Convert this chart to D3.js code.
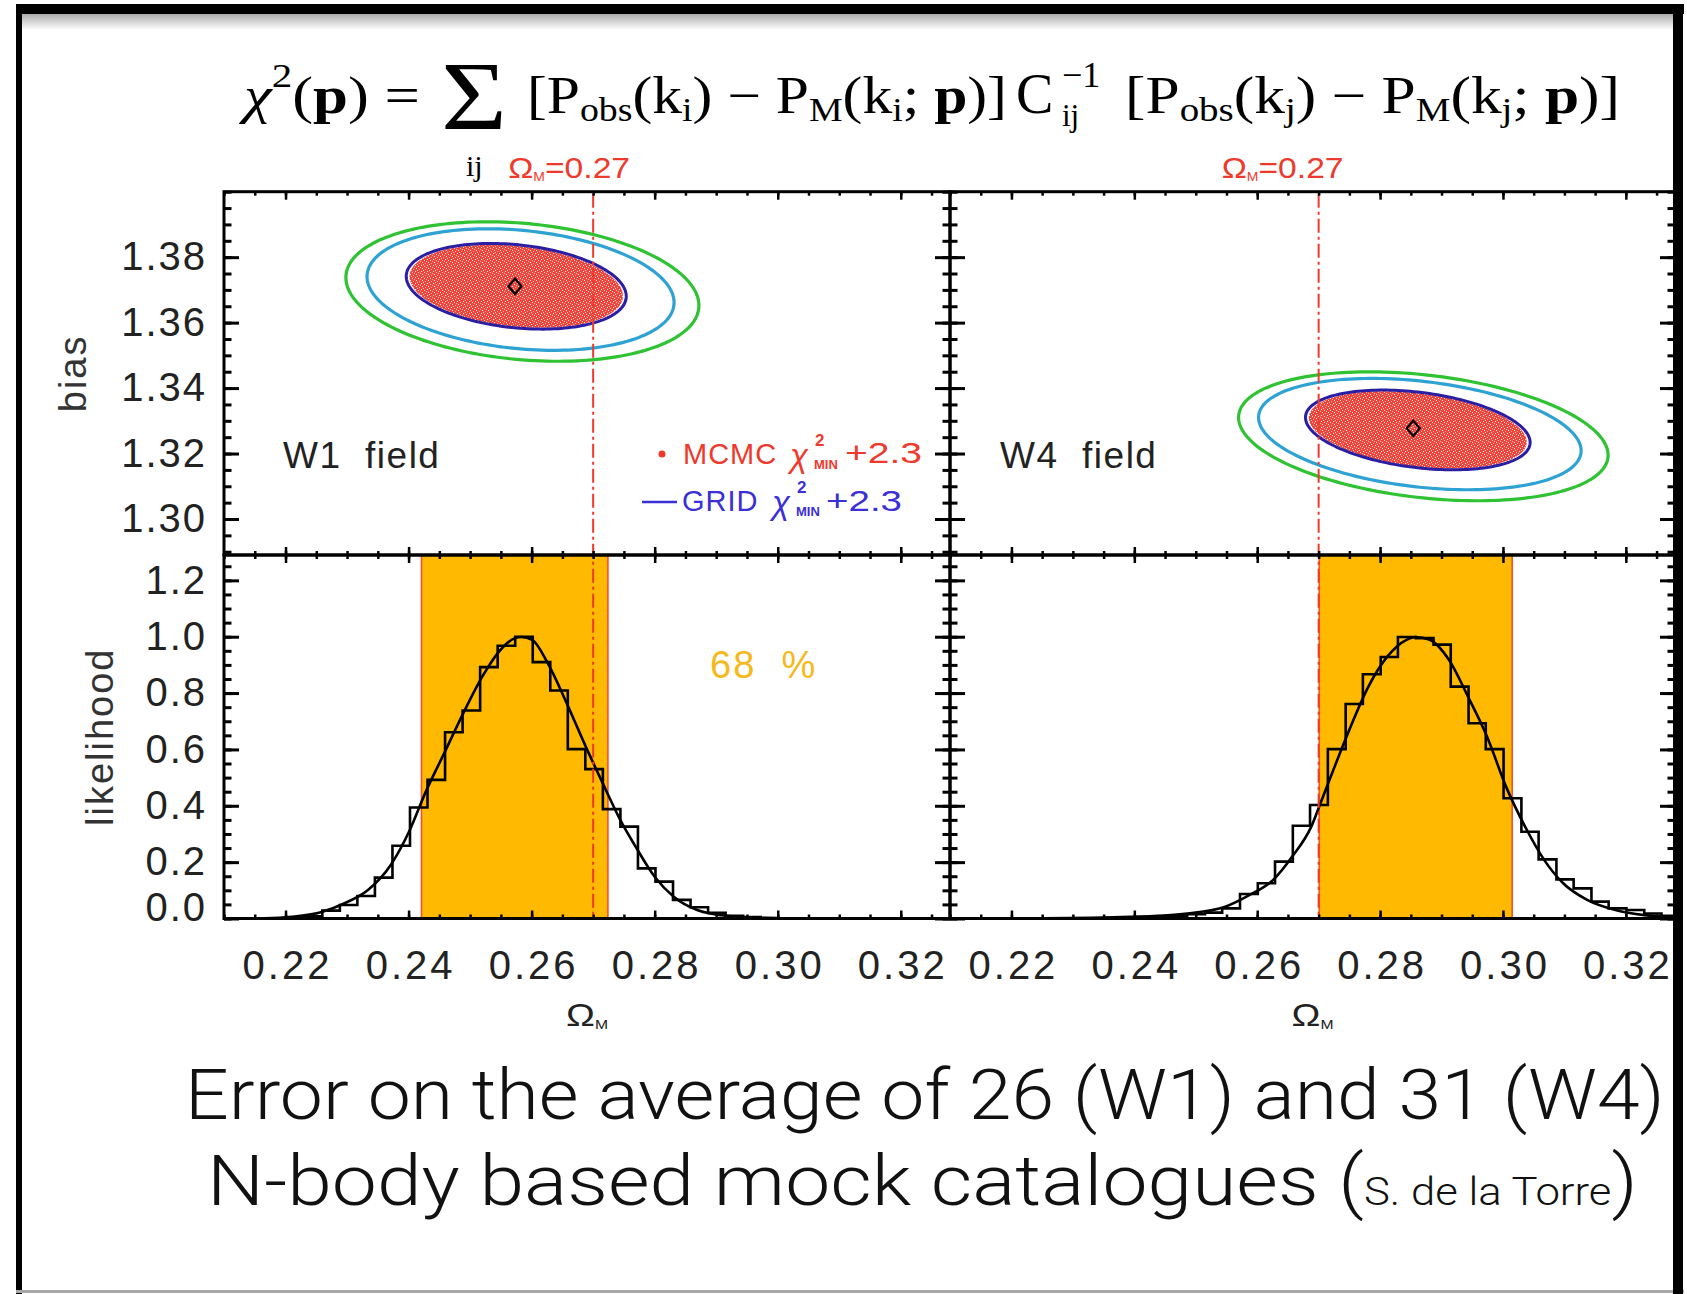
<!DOCTYPE html>
<html><head><meta charset="utf-8">
<script src="https://cdn.jsdelivr.net/npm/d3@7"></script>
<style>
html,body{margin:0;padding:0;background:#fff;}
svg{display:block;}
</style></head>
<body>
<svg id="chart" width="1687" height="1294"></svg>
<script>
// ================= DATA =================
const xTickValues = [0.22, 0.24, 0.26, 0.28, 0.30, 0.32];
const xTickLabels = ["0.22", "0.24", "0.26", "0.28", "0.30", "0.32"];
const biasTickValues = [1.30, 1.32, 1.34, 1.36, 1.38];
const biasTickLabels = ["1.30", "1.32", "1.34", "1.36", "1.38"];
const likeTickValues = [0.0, 0.2, 0.4, 0.6, 0.8, 1.0, 1.2];
const likeTickLabels = ["0.0", "0.2", "0.4", "0.6", "0.8", "1.0", "1.2"];
const omegaDomain = [0.21, 0.328];
const biasDomain = [1.289, 1.40];
const likeDomain = [0, 1.29];
const omegaFiducial = 0.27;
const fieldNames = ["W1  field", "W4  field"];

// contour ellipses: [centre Ωm, centre bias, half-width Ωm, half-height bias, bias shift at Ωm extremes]
const w1GridContour   = [0.2575, 1.3711, 0.01788, 0.01309, -0.00304];
const w1Contour2      = [0.2582, 1.3701, 0.02495, 0.01857, -0.00396];
const w1Contour3      = [0.2585, 1.3695, 0.02869, 0.02131, -0.00426];
const w4GridContour   = [0.28614, 1.32721, 0.01828, 0.01218, -0.00381];
const w4Contour2      = [0.28647, 1.32594, 0.02625, 0.01701, -0.00508];
const w4Contour3      = [0.28704, 1.32527, 0.03007, 0.01970, -0.00575];
const w1BestFit = [0.2573, 1.3711];
const w4BestFit = [0.2854, 1.3277];

// 68% intervals
const w1Band = [0.2421, 0.2724];
const w4Band = [0.2701, 0.3015];

// histogram: bin left edges and heights
const w1BinEdges = [0.21458,0.21743,0.22028,0.22313,0.22598,0.22883,0.23168,0.23453,0.23738,0.24023,0.24308,0.24593,0.24878,0.25163,0.25448,0.25733,0.26018,0.26303,0.26588,0.26873,0.27158,0.27443,0.27728,0.28013,0.28298,0.28583,0.28868,0.29153,0.29438,0.29723,0.30008];
const w1BinValues = [0.0,0.0,0.003,0.008,0.028,0.048,0.08,0.145,0.258,0.394,0.492,0.661,0.738,0.892,0.968,1.0,0.91,0.809,0.601,0.53,0.388,0.326,0.178,0.131,0.066,0.04,0.02,0.01,0.005,0.002,0.0];
const w4BinEdges = [0.2372,0.2401,0.2429,0.2458,0.2486,0.2515,0.2543,0.2572,0.2601,0.2629,0.2658,0.2686,0.2715,0.2744,0.2772,0.2801,0.2829,0.2858,0.2887,0.2915,0.2944,0.2972,0.3001,0.3030,0.3058,0.3087,0.3115,0.3144,0.3172,0.3201,0.3230,0.3258];
const w4BinValues = [0.003,0.005,0.008,0.010,0.015,0.021,0.036,0.087,0.125,0.202,0.329,0.403,0.601,0.761,0.867,0.928,0.999,0.995,0.972,0.823,0.693,0.601,0.427,0.308,0.21,0.139,0.107,0.06,0.036,0.03,0.018,0.01];

// smooth likelihood curves
const w1CurveX = [0.210,0.2166,0.2210,0.2256,0.2296,0.2334,0.2371,0.2402,0.2427,0.2458,0.2489,0.2520,0.2545,0.2573,0.2583,0.2601,0.2626,0.2657,0.2688,0.2713,0.2744,0.2769,0.2800,0.2831,0.2869,0.2920,0.3000,0.3100,0.3280];
const w1CurveY = [0.0,0.001,0.006,0.021,0.054,0.101,0.19,0.314,0.445,0.587,0.729,0.859,0.942,0.995,0.999,0.989,0.907,0.764,0.61,0.492,0.35,0.255,0.148,0.077,0.03,0.009,0.001,0.0,0.0];
const w4CurveX = [0.210,0.2250,0.2394,0.2486,0.2548,0.2587,0.2626,0.2657,0.2688,0.2703,0.2726,0.2750,0.2781,0.2812,0.2843,0.2858,0.2881,0.2912,0.2943,0.2974,0.3005,0.3036,0.3067,0.3098,0.3137,0.3183,0.3230,0.3276];
const w4CurveY = [0.0,0.001,0.006,0.018,0.042,0.083,0.137,0.22,0.326,0.409,0.539,0.67,0.823,0.93,0.989,0.999,0.989,0.918,0.788,0.646,0.468,0.326,0.208,0.125,0.066,0.03,0.012,0.006];

// ================= LAYOUT / STYLE =================
const W = 1687, H = 1294;
const L = {x0: 224, xm: 950, x1: 1675, y0: 191.7, ym: 555, y1: 918.5};
const C = {
  green: "#2fc232", cyan: "#2ea3d3", blue: "#2a1fa3", red: "#ee3a2c",
  band: "#ffb900", bandEdge: "#f2512a", legendBlue: "#3b2fd6", pct: "#f7b81c"
};
const SANS = "'Liberation Sans', Arial, sans-serif";
const SERIF = "'Liberation Serif', 'Times New Roman', serif";

const svg = d3.select("#chart");
svg.append("rect").attr("width", W).attr("height", H).attr("fill", "#fff");

const defs = svg.append("defs");
const grad = defs.append("linearGradient").attr("id", "shadow").attr("x1", 0).attr("x2", 0).attr("y1", 0).attr("y2", 1);
grad.append("stop").attr("offset", "0%").attr("stop-color", "#8a8a8a");
grad.append("stop").attr("offset", "100%").attr("stop-color", "#ffffff");
const pat = defs.append("pattern").attr("id", "speckle").attr("patternUnits", "userSpaceOnUse").attr("width", 6).attr("height", 6);
pat.append("rect").attr("width", 6).attr("height", 6).attr("fill", "#f2443a");
[[1,1,"#ffffff"],[4,2,"#fde0da"],[2,4,"#ffffff"],[5,5,"#f9b0a8"],[0,3,"#fbc8c0"],[3,0,"#fcd6cf"]].forEach(([x,y,c]) =>
  pat.append("rect").attr("x", x).attr("y", y).attr("width", 1).attr("height", 1).attr("fill", c));

// outer slide frame
svg.append("rect").attr("x", 16).attr("y", 14).attr("width", 1660).attr("height", 16).attr("fill", "url(#shadow)").attr("opacity", 0.7);
svg.append("rect").attr("x", 16).attr("y", 4).attr("width", 1668).attr("height", 10).attr("fill", "#000");
svg.append("rect").attr("x", 16).attr("y", 4).attr("width", 6).attr("height", 1290).attr("fill", "#000");
svg.append("rect").attr("x", 16).attr("y", 1290).attr("width", 1668).attr("height", 3).attr("fill", "#a8a8a8");

// scales
const xScales = [
  d3.scaleLinear().domain(omegaDomain).range([L.x0, L.xm]),
  d3.scaleLinear().domain(omegaDomain).range([L.xm, L.x1])
];
const yBias = d3.scaleLinear().domain(biasDomain).range([L.ym, L.y0]);
const yLike = d3.scaleLinear().domain(likeDomain).range([L.y1, L.ym]);

const xMinor = d3.range(42, 66).map(i => +(i * 0.005).toFixed(3));
const biasMinor = d3.range(258, 281).map(i => +(i * 0.005).toFixed(3));
const likeMinor = d3.range(0, 26).map(i => +(i * 0.05).toFixed(2));

// ---------- helpers ----------
function ellipsePoints(e, xs, ys, f = 1) {
  const [cx, cy, A, Hh, Cs] = e;
  const B = Math.sqrt(Math.max(Hh * Hh - Cs * Cs, 0));
  return d3.range(0, 360, 2).map(deg => {
    const t = deg * Math.PI / 180;
    return [xs(cx + f * A * Math.cos(t)), ys(cy + f * (B * Math.sin(t) + Cs * Math.cos(t)))];
  });
}
const closedLine = d3.line().curve(d3.curveLinearClosed);

function fitX(sel, x0, x1) {
  const bb = sel.node().getBBox();
  const s = (x1 - x0) / bb.width;
  sel.attr("transform", `translate(${x0},0) scale(${s},1) translate(${-bb.x},0)`);
}

function richText(parent, x, y, segs, size, family, fill) {
  const t = parent.append("text").attr("x", x).attr("y", y)
    .attr("font-family", family).attr("font-size", size).attr("fill", fill || "#000");
  let cur = 0;
  segs.forEach(s => {
    const target = s.s === "sub" ? (s.shift != null ? s.shift : size * 0.18) :
                   s.s === "sup" ? (s.shift != null ? s.shift : -size * 0.48) : 0;
    const ts = t.append("tspan").text(s.t).attr("dy", target - cur);
    cur = target;
    if (s.s) ts.attr("font-size", s.size || size * 0.66);
    if (s.size && !s.s) ts.attr("font-size", s.size);
    if (s.b) ts.attr("font-weight", "bold");
    if (s.i) ts.attr("font-style", "italic");
  });
  return t;
}

function styleAxis(g, width) {
  g.select(".domain").remove();
  g.selectAll(".tick line").attr("stroke", "#000").attr("stroke-width", width);
}

function drawAxes(xs, ys, yMaj, yMin, opts) {
  const [px0, px1] = xs.range();
  const [py1, py0] = ys.range();
  const g = svg.append("g");
  [["L", px0], ["R", px1]].forEach(([side, px]) => {
    const mk = side === "L" ? d3.axisLeft : d3.axisRight;
    g.append("g").attr("transform", `translate(${px},0)`)
      .call(mk(ys).tickValues(yMin).tickSize(-7.5).tickFormat(""))
      .call(a => styleAxis(a, 3));
    const maj = g.append("g").attr("transform", `translate(${px},0)`)
      .call(mk(ys).tickValues(yMaj).tickSize(-15).tickPadding(17)
        .tickFormat(side === "L" && opts.yLabels ? ((d, i) => opts.yLabels[i]) : ""));
    styleAxis(maj, 3);
    maj.selectAll("text").attr("font-family", SANS).attr("font-size", 40)
      .attr("fill", "#222").attr("letter-spacing", "2px");
    if (opts.lowerZero) maj.selectAll(".tick").filter(d => d === 0).select("text").attr("dy", "0.04em");
  });
  [["T", py0], ["B", py1]].forEach(([side, py]) => {
    const mk = side === "T" ? d3.axisTop : d3.axisBottom;
    g.append("g").attr("transform", `translate(0,${py})`)
      .call(mk(xs).tickValues(xMinor).tickSize(-4).tickFormat(""))
      .call(a => styleAxis(a, 2.5));
    const maj = g.append("g").attr("transform", `translate(0,${py})`)
      .call(mk(xs).tickValues(xTickValues).tickSize(-8).tickPadding(32)
        .tickFormat(side === "B" && opts.xLabels ? ((d, i) => xTickLabels[i]) : ""));
    styleAxis(maj, 2.5);
    maj.selectAll("text").attr("font-family", SANS).attr("font-size", 40)
      .attr("fill", "#222").attr("letter-spacing", "3px").attr("dx", "1.5px");
  });
  g.append("rect").attr("x", px0).attr("y", py0).attr("width", px1 - px0).attr("height", py1 - py0)
    .attr("fill", "none").attr("stroke", "#000").attr("stroke-width", 3);
}

// ---------- UPPER PANELS: contours ----------
const contourSets = [
  {grid: w1GridContour, c2: w1Contour2, c3: w1Contour3, best: w1BestFit},
  {grid: w4GridContour, c2: w4Contour2, c3: w4Contour3, best: w4BestFit}
];
contourSets.forEach((cs, k) => {
  const xs = xScales[k];
  const g = svg.append("g");
  g.append("path").attr("d", closedLine(ellipsePoints(cs.grid, xs, yBias, 0.97)))
    .attr("fill", "url(#speckle)").attr("stroke", "none");
  g.append("path").attr("d", closedLine(ellipsePoints(cs.c3, xs, yBias)))
    .attr("fill", "none").attr("stroke", C.green).attr("stroke-width", 3.2);
  g.append("path").attr("d", closedLine(ellipsePoints(cs.c2, xs, yBias)))
    .attr("fill", "none").attr("stroke", C.cyan).attr("stroke-width", 3.2);
  g.append("path").attr("d", closedLine(ellipsePoints(cs.grid, xs, yBias)))
    .attr("fill", "none").attr("stroke", C.blue).attr("stroke-width", 3);
  g.append("path").attr("d", d3.symbol().type(d3.symbolDiamond2).size(150)())
    .attr("transform", `translate(${xs(cs.best[0])},${yBias(cs.best[1])}) scale(0.85,1)`)
    .attr("fill", "none").attr("stroke", "#000").attr("stroke-width", 2.4);
});

// ---------- LOWER PANELS: band, histogram, curve ----------
const bands = [w1Band, w4Band];
const hists = [[w1BinEdges, w1BinValues], [w4BinEdges, w4BinValues]];
const curves = [[w1CurveX, w1CurveY], [w4CurveX, w4CurveY]];
[0, 1].forEach(k => {
  const xs = xScales[k];
  const g = svg.append("g");
  const b = bands[k];
  g.append("rect").attr("x", xs(b[0])).attr("y", yLike(likeDomain[1]))
    .attr("width", xs(b[1]) - xs(b[0])).attr("height", yLike(0) - yLike(likeDomain[1]))
    .attr("fill", C.band);
  b.forEach(v => g.append("line").attr("x1", xs(v)).attr("x2", xs(v))
    .attr("y1", yLike(likeDomain[1])).attr("y2", yLike(0))
    .attr("stroke", C.bandEdge).attr("stroke-width", 1.6));
  const [edges, vals] = hists[k];
  const binW = edges[1] - edges[0];
  const pts = edges.map((e, i) => [e, vals[i]]);
  pts.push([Math.min(edges[edges.length - 1] + binW, omegaDomain[1]), vals[vals.length - 1]]);
  const step = d3.line().curve(d3.curveStepAfter).x(d => xs(d[0])).y(d => yLike(d[1]));
  g.append("path").attr("d", step(pts)).attr("fill", "none").attr("stroke", "#000")
    .attr("stroke-width", 2.6).attr("stroke-linejoin", "miter");
  const [cx, cy] = curves[k];
  const smooth = d3.line().curve(d3.curveMonotoneX).x(d => xs(d[0])).y(d => yLike(d[1]));
  g.append("path").attr("d", smooth(cx.map((x, i) => [x, cy[i]]))).attr("fill", "none")
    .attr("stroke", "#000").attr("stroke-width", 2.6);
});

// ---------- fiducial dash-dot lines ----------
[0, 1].forEach(k => {
  const xs = xScales[k];
  svg.append("line").attr("x1", xs(omegaFiducial)).attr("x2", xs(omegaFiducial))
    .attr("y1", yBias(biasDomain[1]) + 2).attr("y2", yLike(0))
    .attr("stroke", C.red).attr("stroke-width", 2)
    .attr("stroke-dasharray", "14,4,3,4");
});

// ---------- axes ----------
drawAxes(xScales[0], yBias, biasTickValues, biasMinor, {yLabels: biasTickLabels});
drawAxes(xScales[1], yBias, biasTickValues, biasMinor, {});
drawAxes(xScales[0], yLike, likeTickValues, likeMinor, {yLabels: likeTickLabels, xLabels: true, lowerZero: true});
drawAxes(xScales[1], yLike, likeTickValues, likeMinor, {xLabels: true});

// right outer border (thick)
svg.append("rect").attr("x", 1673).attr("y", 4).attr("width", 10).attr("height", 1290).attr("fill", "#000");

// ---------- axis titles ----------
svg.append("text").attr("transform", `translate(86,${(L.y0 + L.ym) / 2}) rotate(-90)`)
  .attr("text-anchor", "middle").attr("font-family", SANS).attr("font-size", 38)
  .attr("fill", "#333").attr("letter-spacing", "2px").text("bias");
svg.append("text").attr("transform", `translate(113,${(L.ym + L.y1) / 2}) rotate(-90)`)
  .attr("text-anchor", "middle").attr("font-family", SANS).attr("font-size", 38)
  .attr("fill", "#333").attr("letter-spacing", "2px").text("likelihood");
[0, 1].forEach(k => {
  const xs = xScales[k];
  const mid = (xs.range()[0] + xs.range()[1]) / 2;
  const t = richText(svg, 0, 1026, [{t: "Ω"}, {t: "M", s: "sub", size: 13, shift: 3}], 32, SANS, "#222");
  fitX(t, mid - 21, mid + 21);
});

// ---------- field labels ----------
[[283, 0], [1000, 1]].forEach(([x, k]) => {
  svg.append("text").attr("x", x).attr("y", 468).attr("font-family", SANS).attr("font-size", 37)
    .attr("fill", "#222").attr("letter-spacing", "1.5px").attr("xml:space", "preserve").text(fieldNames[k]);
});

// ---------- Ωm = 0.27 labels ----------
[[-24, 0], [-36, 1]].forEach(([off, k]) => {
  const cx = xScales[k](omegaFiducial) + off;
  const t = richText(svg, 0, 178, [{t: "Ω"}, {t: "M", s: "sub", size: 12, shift: 3}, {t: "=0.27"}], 29, SANS, C.red);
  fitX(t, cx - 61, cx + 61);
});

// ---------- legend ----------
svg.append("circle").attr("cx", 662).attr("cy", 454).attr("r", 3.5).attr("fill", C.red);
function legendRow(col, y, name, nx, chiX, plusX, plusEnd) {
  svg.append("text").attr("x", nx).attr("y", y).attr("font-family", SANS).attr("font-size", 29)
    .attr("fill", col).attr("letter-spacing", "1px").text(name);
  const chi = svg.append("text").attr("x", chiX).attr("y", y + 3).attr("font-family", SANS).attr("font-size", 33)
    .attr("fill", col);
  chi.append("tspan").attr("font-style", "italic").text("χ");
  chi.append("tspan").attr("x", chiX + 25).attr("y", y - 18).attr("font-size", 17).attr("font-weight", "bold").text("2");
  chi.append("tspan").attr("x", chiX + 24).attr("y", y + 5).attr("font-size", 13).attr("font-weight", "bold").text("MIN");
  const p = svg.append("text").attr("y", y).attr("font-family", SANS).attr("font-size", 29)
    .attr("fill", col).text("+2.3");
  fitX(p, plusX, plusEnd);
}
legendRow(C.red, 463.5, "MCMC", 683, 790, 845, 922);
svg.append("line").attr("x1", 642).attr("x2", 677).attr("y1", 502).attr("y2", 502)
  .attr("stroke", C.legendBlue).attr("stroke-width", 2.5);
legendRow(C.legendBlue, 511, "GRID", 682, 772, 826, 902);

// ---------- 68 % ----------
svg.append("text").attr("x", 710).attr("y", 678).attr("font-family", SANS).attr("font-size", 38)
  .attr("fill", C.pct).attr("letter-spacing", "2px").attr("xml:space", "preserve").text("68  %");

// ---------- formula ----------
const f1 = richText(svg, 0, 113, [{t: "χ", i: true}, {t: "2", s: "sup", shift: -26, size: 34}, {t: "("}, {t: "p", b: true}, {t: ") ="}], 52, SERIF);
fitX(f1, 238, 420);
const sig = svg.append("text").attr("x", 0).attr("y", 129).attr("font-family", SERIF)
  .attr("font-size", 98).text("Σ");
fitX(sig, 441, 507);
svg.append("text").attr("x", 466).attr("y", 176).attr("font-family", SERIF).attr("font-size", 30).text("ij");
function bracketGroup(sub) {
  return [{t: "[P"}, {t: "obs", s: "sub", shift: 8, size: 33}, {t: "(k"}, {t: sub, s: "sub", shift: 8, size: 33},
          {t: ") − P"}, {t: "M", s: "sub", shift: 8, size: 33}, {t: "(k"}, {t: sub, s: "sub", shift: 8, size: 33},
          {t: "; "}, {t: "p", b: true}, {t: ")]"}];
}
const f2 = richText(svg, 0, 113, bracketGroup("i"), 52, SERIF);
fitX(f2, 527, 1007);
svg.append("text").attr("x", 1016).attr("y", 113).attr("font-family", SERIF).attr("font-size", 56).text("C");
svg.append("text").attr("x", 1062).attr("y", 87).attr("font-family", SERIF).attr("font-size", 36).text("−1");
svg.append("text").attr("x", 1062).attr("y", 126).attr("font-family", SERIF).attr("font-size", 31).text("ij");
const f3 = richText(svg, 0, 113, bracketGroup("j"), 52, SERIF);
fitX(f3, 1125, 1620);

// ---------- caption ----------
const cap1 = svg.append("text").attr("x", 0).attr("y", 1119).attr("font-family", "Roboto, 'Liberation Sans', sans-serif")
  .attr("font-weight", 300).attr("font-size", 70).attr("fill", "#111")
  .text("Error on the average of 26 (W1) and 31 (W4)");
fitX(cap1, 185, 1665);
const cap2 = svg.append("text").attr("x", 0).attr("y", 1205).attr("font-family", "Roboto, 'Liberation Sans', sans-serif")
  .attr("font-weight", 300).attr("font-size", 70).attr("fill", "#111");
cap2.append("tspan").text("N-body based mock catalogues (");
cap2.append("tspan").attr("font-size", 38).text("S. de la Torre");
cap2.append("tspan").text(")");
fitX(cap2, 207, 1638);
</script>
</body></html>
